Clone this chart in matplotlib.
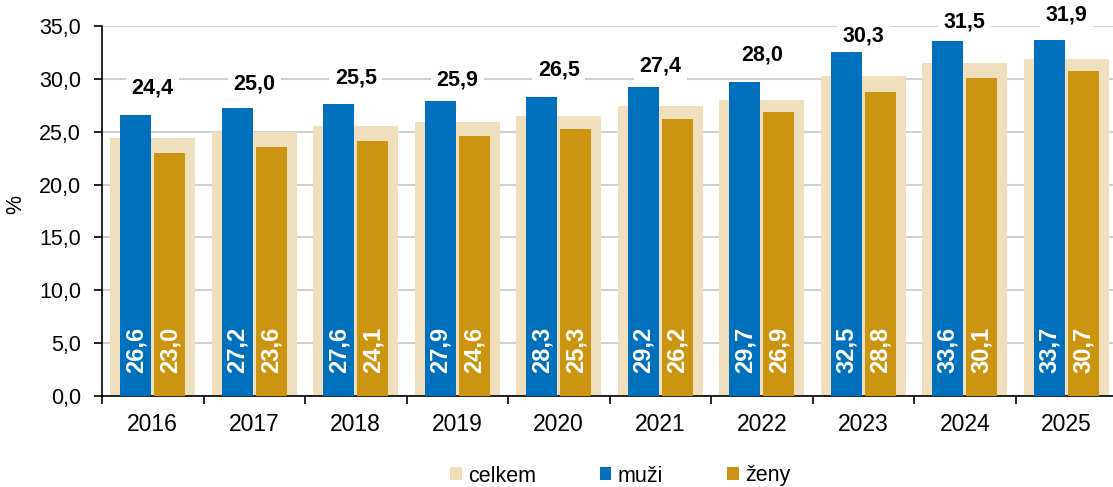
import matplotlib
matplotlib.use("Agg")
import matplotlib.pyplot as plt
import numpy as np

years = ["2016", "2017", "2018", "2019", "2020", "2021", "2022", "2023", "2024", "2025"]
celkem = [24.4, 25.0, 25.5, 25.9, 26.5, 27.4, 28.0, 30.3, 31.5, 31.9]
muzi = [26.6, 27.2, 27.6, 27.9, 28.3, 29.2, 29.7, 32.5, 33.6, 33.7]
zeny = [23.0, 23.6, 24.1, 24.6, 25.3, 26.2, 26.9, 28.8, 30.1, 30.7]
series_names = ["celkem", "muži", "ženy"]

# layout: vertical positions of the "celkem" labels (data units)
label_y = [29.1, 29.5, 30.1, 29.9, 30.8, 31.2, 32.3, 34.05, 35.4, 36.0]

plt.rcParams['font.family'] = ['Liberation Sans', 'DejaVu Sans']

c_cel = "#F0DFBD"
c_muz = "#0070BD"
c_zen = "#CB9512"

fig = plt.figure(figsize=(11.13, 4.87), dpi=100)
ax = fig.add_axes([102/1113, 1-396/487, (1117-102)/1113, (396-26)/487])

x = np.arange(len(years))
ax.bar(x, celkem, width=0.84, color=c_cel, zorder=2, label=series_names[0])
ax.bar(x - 0.167, muzi, width=0.305, color=c_muz, zorder=3, label=series_names[1])
ax.bar(x + 0.167, zeny, width=0.305, color=c_zen, zorder=3, label=series_names[2])

fmt = lambda v: f"{v:.1f}".replace(".", ",")
for i in range(len(years)):
    ax.text(x[i], label_y[i], fmt(celkem[i]), ha="center", va="center", fontsize=15.5,
            fontweight="bold", color="black", zorder=5, clip_on=False,
            bbox=dict(facecolor="white", edgecolor="none", pad=4))
    ax.text(x[i] - 0.167, 4.35, fmt(muzi[i]), ha="center", va="center", rotation=90,
            fontsize=17, fontweight="bold", color="white", zorder=6)
    ax.text(x[i] + 0.167, 4.35, fmt(zeny[i]), ha="center", va="center", rotation=90,
            fontsize=17, fontweight="bold", color="white", zorder=6)

ax.set_xlim(-0.5, len(years) - 0.5)
ax.set_ylim(0, 35)
ax.set_yticks(np.arange(0, 35.1, 5))
ax.set_yticklabels([fmt(v) for v in np.arange(0, 35.1, 5)], fontsize=15.5)
ax.set_xticks(x)
ax.set_xticklabels(years, fontsize=16.5)
ax.set_xticks(np.arange(-0.5, len(years), 1), minor=True)
ax.tick_params(axis="x", which="major", length=0, pad=12)
ax.tick_params(axis="x", which="minor", length=6, width=1.2, direction="out")
ax.tick_params(axis="y", length=6, width=1.2, direction="out", pad=9)

ax.grid(axis="y", color="#D0D0D0", linewidth=1.5, zorder=0)
ax.set_axisbelow(True)
for s in ["top", "right"]:
    ax.spines[s].set_visible(False)
ax.spines["left"].set_linewidth(1.2)
ax.spines["bottom"].set_linewidth(1.2)

fig.text(16/1113, 1-205/487, "%", rotation=90, ha="center", va="center", fontsize=15.5)

leg = fig.legend(loc="center", bbox_to_anchor=(620/1113, 1-476/487), ncol=3, frameon=False,
                 fontsize=15.5, handlelength=0.55, handleheight=0.55, handletextpad=0.3,
                 columnspacing=2.95)

fig.savefig("out.png", dpi=100)
